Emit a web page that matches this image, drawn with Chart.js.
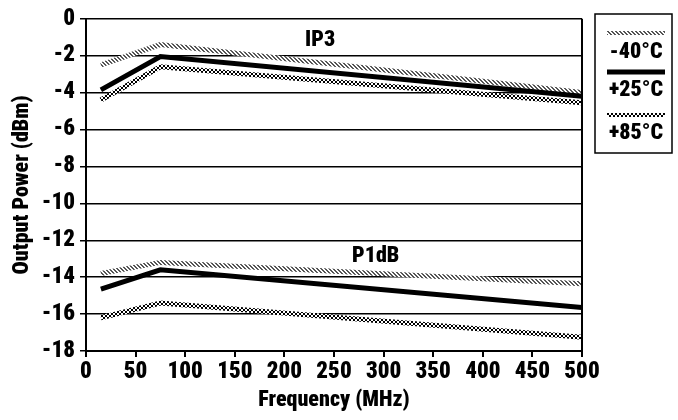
<!DOCTYPE html>
<html>
<head>
<meta charset="utf-8">
<script src="https://cdn.jsdelivr.net/npm/chart.js@4"></script>
<style>
  html, body { margin: 0; padding: 0; background: #fff; }
  #wrap { width: 678px; height: 420px; }
</style>
</head>
<body>
<div id="wrap"><canvas id="chart" width="678" height="420"></canvas></div>
<script>
/* ===== DATA ===== */
const freqs = [15, 75, 500];            // MHz
const ip3Cold = [-2.5, -1.4, -4.0];     // -40°C
const ip3Room = [-3.85, -2.05, -4.2];   // +25°C
const ip3Hot  = [-4.4, -2.6, -4.55];    // +85°C
const p1Cold  = [-13.8, -13.2, -14.35];
const p1Room  = [-14.65, -13.6, -15.65];
const p1Hot   = [-16.2, -15.4, -17.25];
const tempLabels = ['-40°C', '+25°C', '+85°C'];
const curveLabels = ['IP3', 'P1dB'];

const FONT = 'Roboto, "Open Sans", sans-serif';
const WEIGHT = '900 condensed';   // Chart.js passes it straight into the font string

/* ===== PATTERNS ===== */
function makePattern(rows) {
  const c = document.createElement('canvas');
  c.width = rows[0].length; c.height = rows.length;
  const g = c.getContext('2d');
  g.fillStyle = '#fff';
  g.fillRect(0, 0, c.width, c.height);
  rows.forEach((r, y) => {
    [...r].forEach((ch, x) => {
      if (ch === '#') { g.fillStyle = '#000'; g.fillRect(x, y, 1, 1); }
      else if (ch === '+') { g.fillStyle = '#555'; g.fillRect(x, y, 1, 1); }
    });
  });
  return g.createPattern(c, 'repeat');
}
const ctx = document.getElementById('chart').getContext('2d');
const coldPat = makePattern(['++..', '.++.', '..++', '+..+']);
const hotPat  = makePattern(['.##.', '#..#', '#..#', '.##.']);
const styles = [
  { color: coldPat, width: 5 },
  { color: '#000', width: 5 },
  { color: hotPat, width: 5 },
];

const pts = arr => arr.map((v, i) => ({ x: freqs[i], y: v }));
const series = [ip3Cold, ip3Room, ip3Hot, p1Cold, p1Room, p1Hot];
const datasets = series.map((s, i) => ({
  label: tempLabels[i % 3],
  data: pts(s),
  borderColor: styles[i % 3].color,
  borderWidth: styles[i % 3].width,
  pointRadius: 0,
  tension: 0,
  fill: false,
  order: i % 3 === 1 ? 0 : 1,
}));

/* ===== EXTRAS: frame, curve names, legend ===== */
const extras = {
  id: 'extras',
  afterDraw(chart) {
    const c = chart.ctx;
    const { chartArea: a, scales: { x, y } } = chart;
    c.save();
    // right frame line
    c.strokeStyle = '#000';
    c.lineWidth = 2;
    c.beginPath();
    c.moveTo(a.right, a.top); c.lineTo(a.right, a.bottom);
    c.stroke();

    // curve names
    c.fillStyle = '#000';
    c.font = WEIGHT + ' 22px ' + FONT;
    c.textAlign = 'center';
    c.textBaseline = 'middle';
    c.fillText(curveLabels[0], x.getPixelForValue(236), y.getPixelForValue(-1.15));
    c.fillText(curveLabels[1], x.getPixelForValue(292), y.getPixelForValue(-12.9));

    // legend box
    const bx = 595, by = 14, bw = 77, bh = 139;
    c.lineWidth = 1.5;
    c.strokeRect(bx, by, bw, bh);
    const lineY = [33, 72, 115];
    const textY = [52, 90, 133];
    tempLabels.forEach((t, i) => {
      c.strokeStyle = styles[i].color;
      c.lineWidth = i === 1 ? 5 : 4;
      c.beginPath();
      c.moveTo(607, lineY[i]); c.lineTo(665, lineY[i]);
      c.stroke();
      c.fillStyle = '#000';
      c.fillText(t, 636, textY[i]);
    });
    c.restore();
  }
};

new Chart(ctx, {
  type: 'line',
  data: { datasets },
  options: {
    responsive: false,
    devicePixelRatio: 1,
    animation: false,
    layout: { padding: { top: 12, right: 96, bottom: 0, left: 0 } },
    plugins: { legend: { display: false }, tooltip: { enabled: false } },
    scales: {
      x: {
        type: 'linear',
        min: 0, max: 500,
        afterFit: s => { s.height = 69; },
        ticks: { stepSize: 50, color: '#000', padding: 1, maxRotation: 0,
                 font: { family: FONT, size: 23, weight: WEIGHT } },
        grid: { drawOnChartArea: false, tickLength: 6, color: '#000', lineWidth: 2 },
        border: { color: '#000', width: 2 },
        title: { display: true, text: 'Frequency (MHz)', color: '#000',
                 padding: { top: 0, bottom: 6 },
                 font: { family: FONT, size: 22, weight: WEIGHT } },
      },
      y: {
        min: -18, max: 0,
        afterFit: s => { s.width = 86; },
        ticks: { stepSize: 2, color: '#000', padding: 5,
                 font: { family: FONT, size: 23, weight: WEIGHT } },
        grid: { color: '#000', lineWidth: 1.5, tickLength: 6 },
        border: { color: '#000', width: 2 },
        title: { display: true, text: 'Output Power (dBm)', color: '#000',
                 padding: { top: 9, bottom: 0 },
                 font: { family: FONT, size: 22, weight: WEIGHT } },
      }
    }
  },
  plugins: [extras]
});
</script>
</body>
</html>
